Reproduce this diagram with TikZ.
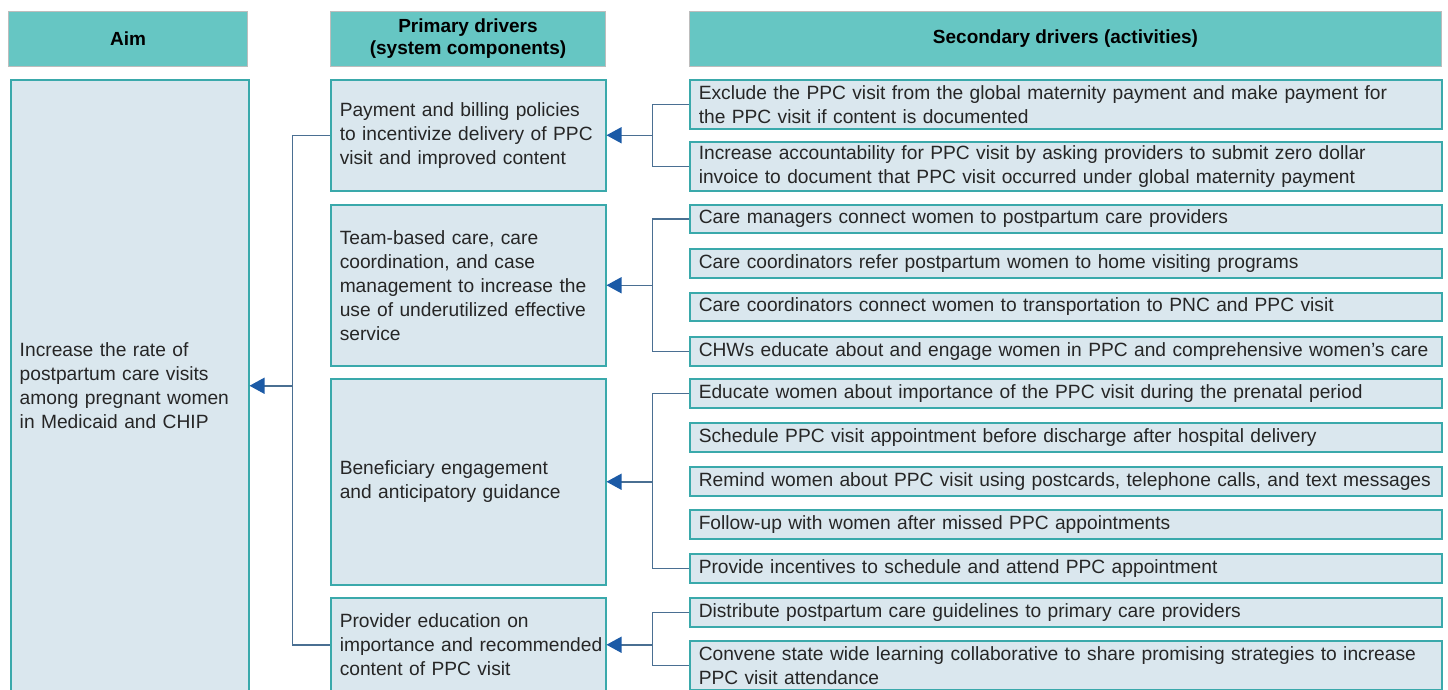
\documentclass[tikz,border=0pt]{standalone}
\usepackage{fontspec}
\setmainfont{Liberation Sans}
\usetikzlibrary{arrows.meta}

\definecolor{headfill}{HTML}{66C6C3}
\definecolor{headline}{HTML}{BDBDBD}
\definecolor{boxfill}{HTML}{DAE7EE}
\definecolor{boxline}{HTML}{3AA9AB}
\definecolor{linkline}{HTML}{4A6F92}
\definecolor{tipblue}{HTML}{1B5AA6}
\definecolor{ink}{HTML}{262626}

\tikzset{
  head/.style={draw=headline, fill=headfill, line width=1pt, anchor=north west,
    align=center, inner sep=0pt, minimum height=55pt,
    font=\fontsize{19}{22}\selectfont\bfseries},
  box/.style={draw=boxline, fill=boxfill, line width=1.5pt, anchor=north west,
    align=left, text=ink, inner xsep=9pt, inner ysep=0pt,
    font=\fontsize{19.2}{24}\selectfont},
  aimbox/.style={box, text width=220pt},
  pribox/.style={box, text width=257pt},
  secbox/.style={box, text width=734pt},
  link/.style={draw=linkline, line width=1.5pt},
  tip/.style={link, -{Triangle[length=15pt,width=16pt,color=tipblue]}},
}

\begin{document}
\begin{tikzpicture}[x=1pt,y=-1pt]
  \useasboundingbox (0,0) rectangle (1448,689);
  \clip (0,0) rectangle (1448,689);

  % column heads
  \node[head, minimum width=239pt] (haim) at (8,11) {Aim};
  \node[head, minimum width=275pt] (hpri) at (330,11) {Primary drivers\\(system components)};
  \node[head, minimum width=752pt] (hsec) at (689,11) {Secondary drivers (activities)};

  % aim
  \node[aimbox, minimum height=612pt] (aim) at (10,79)
    {Increase the rate of\\postpartum care visits\\among pregnant women\\in Medicaid and CHIP};

  % primary drivers
  \node[pribox, minimum height=111pt] (p1) at (330,79)
    {Payment and billing policies\\to incentivize delivery of PPC\\visit and improved content};
  \node[pribox, minimum height=161pt] (p2) at (330,204)
    {Team-based care, care\\coordination, and case\\management to increase the\\use of underutilized effective\\service};
  \node[pribox, minimum height=206pt] (p3) at (330,378)
    {Beneficiary engagement\\and anticipatory guidance};
  \node[pribox, minimum height=94pt] (p4) at (330,597)
    {Provider education on\\\mbox{importance and recommended}\\content of PPC visit};

  % secondary drivers
  \node[secbox, minimum height=49pt] (s1) at (689,79)
    {Exclude the PPC visit from the global maternity payment and make payment for\\the PPC visit if content is documented};
  \node[secbox, minimum height=49pt] (s2) at (689,141)
    {Increase accountability for PPC visit by asking providers to submit zero dollar\\invoice to document that PPC visit occurred under global maternity payment};
  \node[secbox, minimum height=28pt] (s3) at (689,204)
    {Care managers connect women to postpartum care providers};
  \node[secbox, minimum height=29pt] (s4) at (689,248)
    {Care coordinators refer postpartum women to home visiting programs};
  \node[secbox, minimum height=28pt] (s5) at (689,292)
    {Care coordinators connect women to transportation to PNC and PPC visit};
  \node[secbox, minimum height=29pt] (s6) at (689,336)
    {CHWs educate about and engage women in PPC and comprehensive women’s care};
  \node[secbox, minimum height=29pt] (s7) at (689,378)
    {Educate women about importance of the PPC visit during the prenatal period};
  \node[secbox, minimum height=29pt] (s8) at (689,422)
    {Schedule PPC visit appointment before discharge after hospital delivery};
  \node[secbox, minimum height=29pt] (s9) at (689,466)
    {\mbox{Remind women about PPC visit using postcards, telephone calls, and text messages}};
  \node[secbox, minimum height=29pt] (s10) at (689,509)
    {Follow-up with women after missed PPC appointments};
  \node[secbox, minimum height=29pt] (s11) at (689,553)
    {Provide incentives to schedule and attend PPC appointment};
  \node[secbox, minimum height=29pt] (s12) at (689,597)
    {Distribute postpartum care guidelines to primary care providers};
  \node[secbox, minimum height=49pt] (s13) at (689,640)
    {Convene state wide learning collaborative to share promising strategies to increase\\PPC visit attendance};

  % brackets and arrows
  \path (aim.east) ++(43,0) coordinate (ja);
  \path (p1.east) ++(46,0) coordinate (j1);
  \path (p2.east) ++(46,0) coordinate (j2);
  \path (p3.east) ++(46,0) coordinate (j3);
  \path (p4.east) ++(46,0) coordinate (j4);

  \draw[link] (p1.west) -| (ja) |- (p4.west);
  \draw[tip] (ja) -- (aim.east);

  \draw[link] (s1.west) -| (j1) |- (s2.west);
  \draw[tip] (j1) -- (p1.east);
  \draw[link] (s3.west) -| (j2) |- (s6.west);
  \draw[tip] (j2) -- (p2.east);
  \draw[link] (s7.west) -| (j3) |- (s11.west);
  \draw[tip] (j3) -- (p3.east);
  \draw[link] (s12.west) -| (j4) |- (s13.west);
  \draw[tip] (j4) -- (p4.east);
\end{tikzpicture}
\end{document}
